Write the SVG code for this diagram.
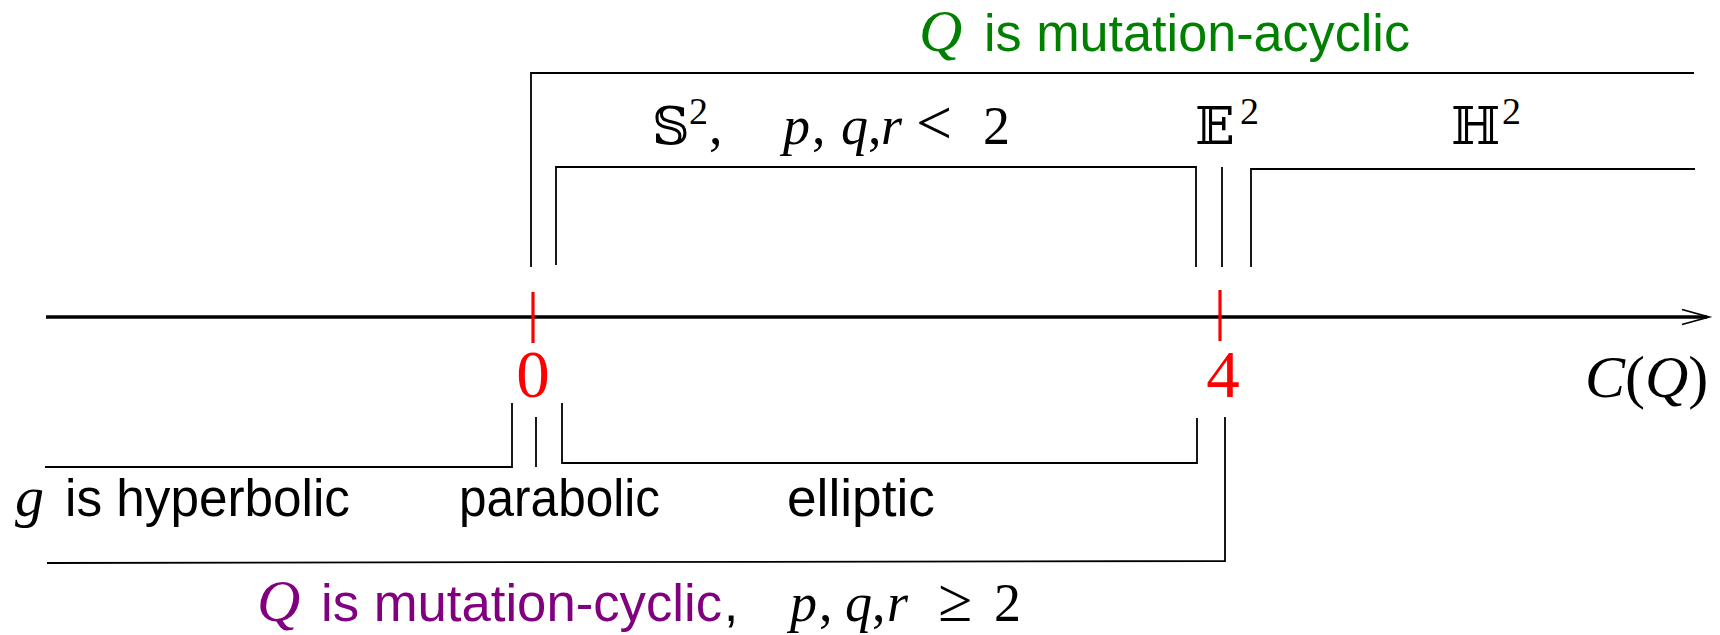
<svg xmlns="http://www.w3.org/2000/svg" width="1720" height="635" viewBox="0 0 1720 635">
<style>
.ln{fill:none;stroke:#000;stroke-width:1.8;stroke-linecap:butt;stroke-linejoin:miter}
.axis{fill:none;stroke:#000;stroke-width:3.5}
.tick{stroke:#ff0000;stroke-width:3.2}
.sans{font-family:"Liberation Sans","DejaVu Sans",sans-serif;font-size:51px}
.mi{font-family:"Liberation Serif","DejaVu Serif",serif;font-style:italic}
.mr{font-family:"Liberation Serif","DejaVu Serif",serif}
.bb{font-family:"DejaVu Serif","DejaVu Sans",serif}
</style>
<rect width="1720" height="635" fill="#fff"/>
<g id="connectors">
  <path class="axis" d="M46 317 H1707"/>
  <path class="ln" d="M1682 309.5 L1709 317 L1682 324.5" stroke-width="2"/>
  <line class="tick" x1="533" y1="292" x2="533" y2="343"/>
  <line class="tick" x1="1220" y1="290" x2="1220" y2="341"/>
  <path class="ln" d="M531 267 V73 H1694"/>
  <path class="ln" d="M556 265 V167 H1196 V267"/>
  <path class="ln" d="M1222 167 V267"/>
  <path class="ln" d="M1251 267 V169 H1695"/>
  <path class="ln" d="M45 467 H512 V403"/>
  <path class="ln" d="M536 417 V467"/>
  <path class="ln" d="M562 403 V463 H1197 V418"/>
  <path class="ln" d="M47 563 L1225 561 V417"/>
</g>
<g id="label-acyclic" fill="#008000">
  <text x="919" y="51" class="mi" font-size="60">Q</text>
  <text x="984" y="51" class="sans" textLength="426" lengthAdjust="spacingAndGlyphs">is mutation-acyclic</text>
</g>
<g id="label-S2" font-size="54">
  <text x="652" y="144" class="bb" font-size="52">𝕊</text>
  <text x="689" y="124" class="mr" font-size="38">2</text>
  <text x="709" y="144" class="mr">,</text>
  <text x="783" y="144" class="mi">p</text>
  <text x="812" y="144" class="mr">,</text>
  <text x="841" y="144" class="mi">q</text>
  <text x="868" y="144" class="mr">,</text>
  <text x="881" y="144" class="mi">r</text>
  <text x="916" y="144" class="mr" font-size="64">&lt;</text>
  <text x="983" y="144" class="mr">2</text>
</g>
<g id="label-E2">
  <text x="1195" y="144" class="bb" font-size="52">𝔼</text>
  <text x="1240" y="124" class="mr" font-size="38">2</text>
</g>
<g id="label-H2">
  <text x="1451" y="144" class="bb" font-size="52">ℍ</text>
  <text x="1502" y="124" class="mr" font-size="38">2</text>
</g>
<g id="label-0" fill="#ff0000">
  <text x="533" y="397" class="mr" font-size="67" text-anchor="middle">0</text>
</g>
<g id="label-4" fill="#ff0000">
  <text x="1223" y="397" class="mr" font-size="67" text-anchor="middle">4</text>
</g>
<g id="label-CQ">
  <text x="1585" y="397" class="mi" font-size="60">C<tspan class="mr" font-style="normal">(</tspan>Q<tspan class="mr" font-style="normal">)</tspan></text>
</g>
<g id="label-hyperbolic">
  <text x="15" y="516" class="mi" font-size="58">g</text>
  <text x="65" y="516" class="sans" textLength="285" lengthAdjust="spacingAndGlyphs">is hyperbolic</text>
</g>
<g id="label-parabolic">
  <text x="459" y="516" class="sans" textLength="201" lengthAdjust="spacingAndGlyphs">parabolic</text>
</g>
<g id="label-elliptic">
  <text x="787" y="516" class="sans" textLength="148" lengthAdjust="spacingAndGlyphs">elliptic</text>
</g>
<g id="label-cyclic">
  <text x="257" y="621" class="mi" font-size="60" fill="#800080">Q</text>
  <text x="321" y="621" class="sans" fill="#800080" textLength="401" lengthAdjust="spacingAndGlyphs">is mutation-cyclic</text>
  <text x="724" y="621" class="sans">,</text>
  <text x="790" y="621" class="mi" font-size="54">p</text>
  <text x="819" y="621" class="mr" font-size="54">,</text>
  <text x="845" y="621" class="mi" font-size="54">q</text>
  <text x="872" y="621" class="mr" font-size="54">,</text>
  <text x="887" y="621" class="mi" font-size="54">r</text>
  <text x="938" y="621" class="mr" font-size="62">≥</text>
  <text x="994" y="621" class="mr" font-size="54">2</text>
</g>
</svg>
